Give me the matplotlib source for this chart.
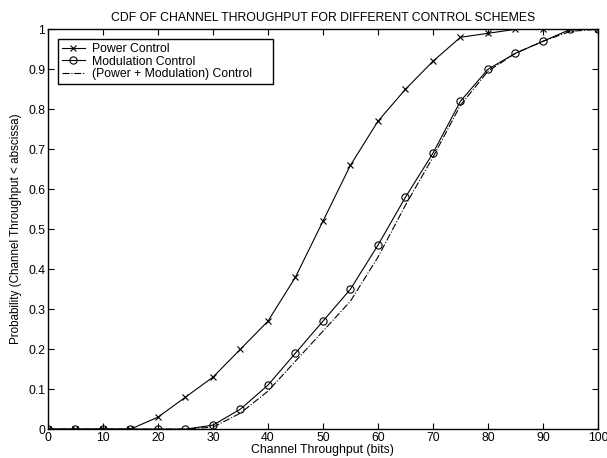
import matplotlib
matplotlib.use("Agg")
import matplotlib.pyplot as plt

plt.rcParams['font.family'] = ['Liberation Sans', 'DejaVu Sans']

x = [0, 5, 10, 15, 20, 25, 30, 35, 40, 45, 50, 55, 60, 65, 70, 75, 80, 85, 90, 95, 100]
power = [0, 0, 0, 0, 0.03, 0.08, 0.13, 0.20, 0.27, 0.38, 0.52, 0.66, 0.77, 0.85, 0.92, 0.98, 0.99, 1.0, 1.0, 1.0, 1.0]
modulation = [0, 0, 0, 0, 0, 0, 0.01, 0.05, 0.11, 0.19, 0.27, 0.35, 0.46, 0.58, 0.69, 0.82, 0.90, 0.94, 0.97, 1.0, 1.0]
combined = [0, 0, 0, 0, 0, 0, 0.005, 0.04, 0.095, 0.17, 0.245, 0.32, 0.43, 0.56, 0.68, 0.81, 0.895, 0.94, 0.97, 0.995, 1.0]
labels = ['Power Control', 'Modulation Control', '(Power + Modulation) Control']

fs = 8.8
fig = plt.figure(figsize=(6.07, 4.58), dpi=100)
ax = fig.add_axes([0.079, 0.063, 0.906, 0.873])

lw = 0.8
ax.plot(x, power, color='black', lw=lw, marker='x', ms=4.2, mew=0.8, label=labels[0])
ax.plot(x, modulation, color='black', lw=lw, marker='o', ms=5.2, mfc='none', mew=0.8, label=labels[1])
ax.plot(x, combined, color='black', lw=lw, ls='-.', label=labels[2])

ax.set_xlim(0, 100)
ax.set_ylim(0, 1)
ax.set_xticks(range(0, 101, 10))
ax.set_yticks([i / 10 for i in range(11)])
ax.set_yticklabels(['0', '0.1', '0.2', '0.3', '0.4', '0.5', '0.6', '0.7', '0.8', '0.9', '1'])
ax.tick_params(direction='in', top=True, right=True, labelsize=fs, length=4, width=0.8, pad=2)
for s in ax.spines.values():
    s.set_linewidth(1.0)

ax.set_xlabel('Channel Throughput (bits)', fontsize=fs, labelpad=0)
ax.set_ylabel('Probability (Channel Throughput < abscissa)', fontsize=8.4, labelpad=4)
ax.set_title('CDF OF CHANNEL THROUGHPUT FOR DIFFERENT CONTROL SCHEMES', fontsize=fs, pad=6)

leg = ax.legend(loc='upper left', fontsize=fs, fancybox=False, framealpha=1,
                edgecolor='black', borderpad=0.3, labelspacing=0.05, handlelength=1.9,
                handletextpad=0.6, mode='expand',
                bbox_to_anchor=(0.018, 0.5, 0.391, 0.475), borderaxespad=0)
leg.get_frame().set_linewidth(1.0)

fig.savefig('out.png', dpi=100)
